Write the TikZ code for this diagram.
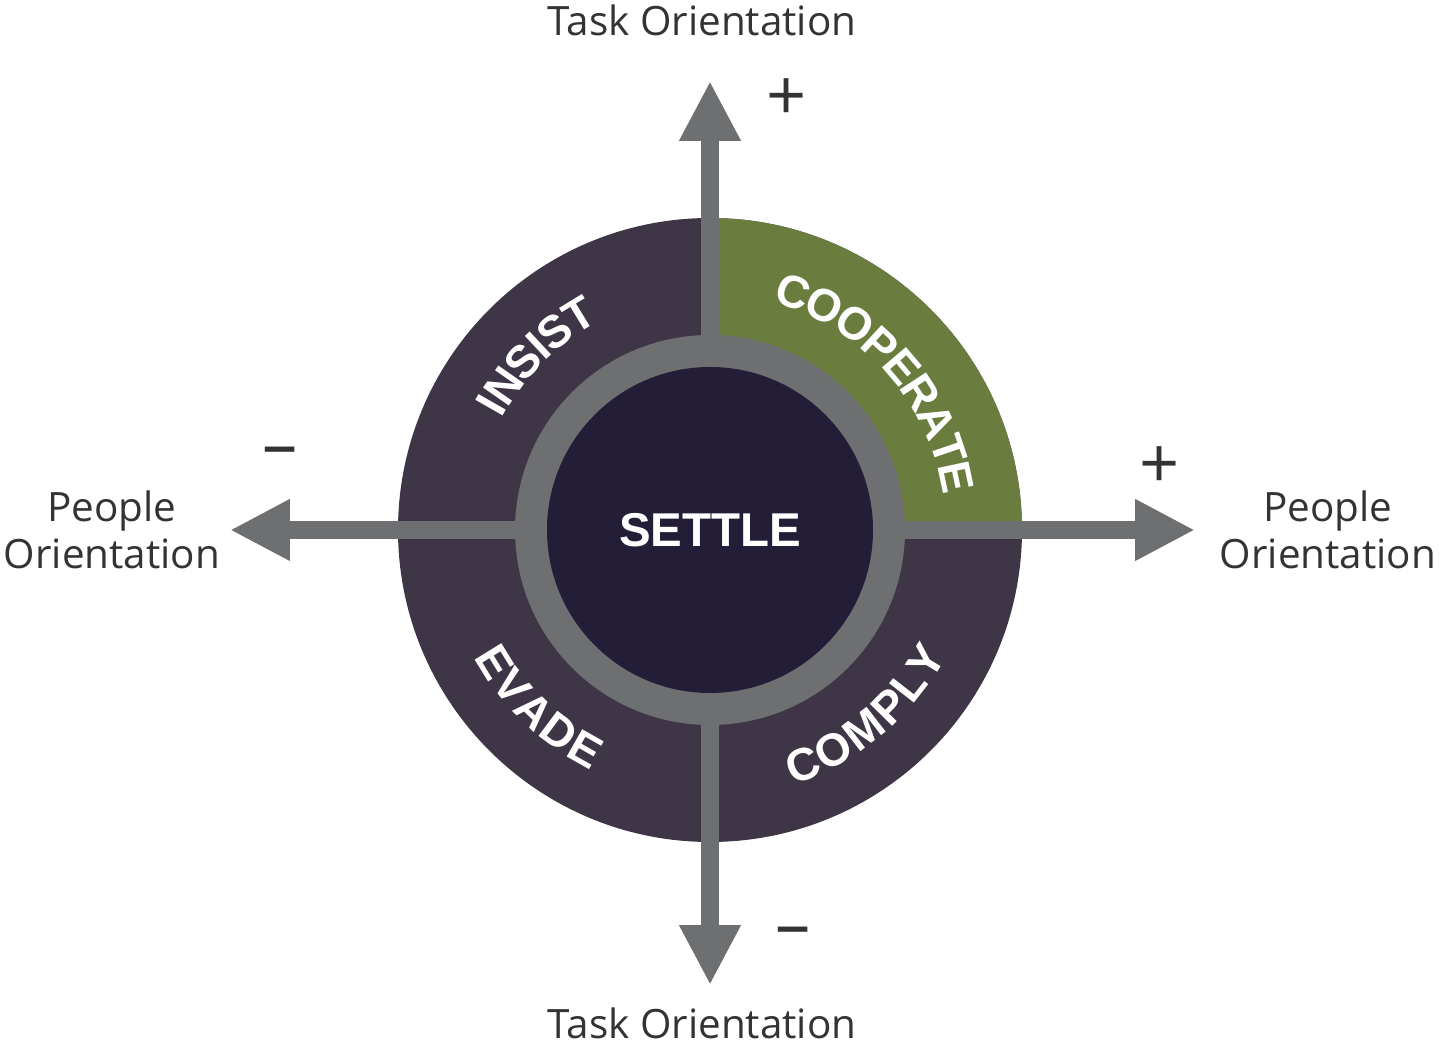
\documentclass[tikz,border=0pt]{standalone}
\usepackage{fontspec}
\setmainfont{Open Sans}
\newfontfamily\lblfont{Liberation Sans}
\usetikzlibrary{arrows.meta,decorations.text}
\definecolor{ringdark}{HTML}{3E3547}
\definecolor{coredark}{HTML}{241D38}
\definecolor{greenq}{HTML}{6A7D3E}
\definecolor{grayr}{HTML}{6E6F71}
\definecolor{txt}{HTML}{333333}
\tikzset{
 ax/.style={draw=grayr,line width=0.36cm,-{Triangle[width=1.15cm,length=1.2cm]}},
 outer/.style={font=\fontsize{23}{27}\selectfont,text=txt,align=center},
 sign/.style={font=\fontsize{40}{40}\selectfont,text=txt},
 arclbl/.style={decorate,decoration={text along path,text align=center,raise=-0.32cm,
   text={|\lblfont\fontsize{26}{26}\selectfont\bfseries\color{white}|#1}}}
}
\begin{document}
\begin{tikzpicture}[x=0.02cm,y=0.02cm]
\useasboundingbox (0,0) rectangle (1440,1047);
\coordinate (c) at (710,517);
\fill[ringdark] (c) circle (312);
\fill[greenq] (c) -- ++(0,312) arc (90:0:312) -- cycle;
\coordinate (t0) at (710,517); \coordinate (t1) at (710,966);
\coordinate (b1) at (710,62);
\coordinate (l1) at (230,517); \coordinate (r1) at (1195,517);
\draw[ax] (t0) -- (t1);
\draw[ax] (t0) -- (b1);
\draw[ax] (t0) -- (l1);
\draw[ax] (t0) -- (r1);
\fill[grayr] (c) circle (195);
\fill[coredark] (c) circle (163);
\node[font=\lblfont\fontsize{27}{27}\selectfont\bfseries,text=white] (settle) at (c) {SETTLE};
\path[arclbl={INSIST}] (c) ++(170:252) arc (170:100:252);
\path[arclbl={COOPERATE}] (c) ++(85:252) arc (85:-2:252);
\path[arclbl={EVADE}] (c) ++(190:252) arc (190:262:252);
\path[arclbl={COMPLY}] (c) ++(275:252) arc (275:345:252);
\node[outer] (tt) at (702,1027) {Task Orientation};
\node[outer] (tb) at (702,24) {Task Orientation};
\node[outer] (pl) at (112,517) {People\\Orientation};
\node[outer] (pr) at (1328,517) {People\\Orientation};
\node[sign] (p1) at (787,947) {+};
\node[sign] (p2) at (1160,579) {+};
\node[sign] (m1) at (280,589) {\textendash};
\node[sign] (m2) at (793,109) {\textendash};
\end{tikzpicture}
\end{document}
